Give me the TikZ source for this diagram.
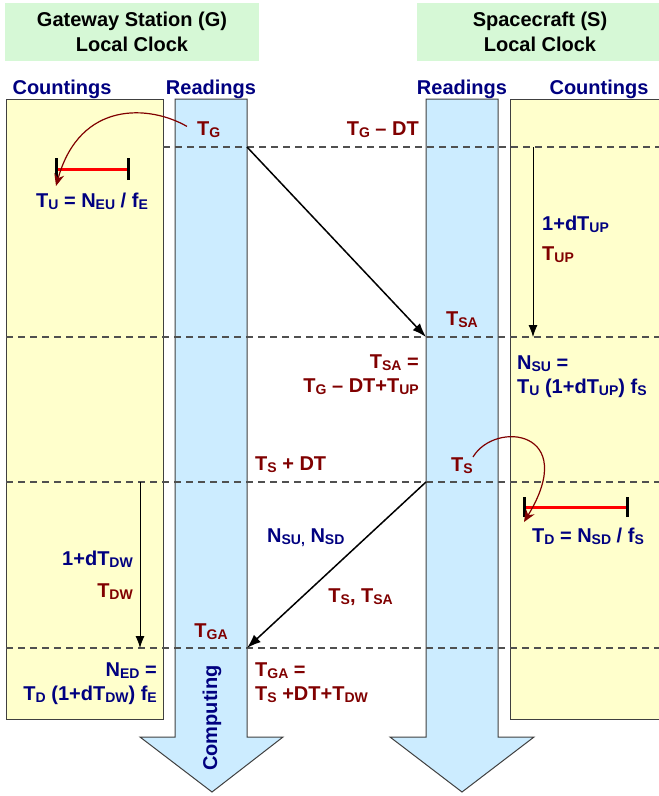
\documentclass[tikz,border=0pt]{standalone}
\usepackage{fontspec}
\setmainfont{Liberation Sans}
\usetikzlibrary{shapes,arrows,arrows.meta,positioning}

\definecolor{navytext}{RGB}{0,0,128}
\definecolor{redtext}{RGB}{128,0,0}
\definecolor{yellowbg}{RGB}{255,255,204}
\definecolor{bluebg}{RGB}{204,236,255}
\definecolor{greenbg}{RGB}{214,248,214}
\definecolor{edgegray}{RGB}{64,64,64}
\definecolor{dashgray}{RGB}{80,80,80}

\newcommand{\sub}[1]{\raisebox{-2.5pt}{\fontsize{14}{14}\selectfont #1}}

\begin{document}
\begin{tikzpicture}[x=1pt, y=-1pt, >=latex']
    \tikzstyle{title}    = [fill=greenbg, align=center, font=\fontsize{20}{25}\selectfont\bfseries, inner sep=0pt]
    \tikzstyle{lbl}      = [inner sep=0pt, font=\fontsize{20}{24}\selectfont\bfseries]
    \tikzstyle{navylbl}  = [lbl, text=navytext]
    \tikzstyle{redlbl}   = [lbl, text=redtext]
    \tikzstyle{countbox} = [draw=edgegray, fill=yellowbg, line width=1pt]
    \tikzstyle{column}   = [draw=edgegray, fill=bluebg, line width=1pt]
    \tikzstyle{timeline} = [draw=dashgray, line width=1.2pt, dash pattern=on 7pt off 5pt]
    \tikzstyle{signal}   = [line width=1.5pt, -{Latex[length=14pt, width=10pt]}]
    \tikzstyle{drift}    = [line width=0.8pt, -{Latex[length=12pt, width=9pt]}]
    \tikzstyle{latch}    = [draw=redtext, line width=1.2pt, -{Stealth[length=12pt, width=10pt]}]
    \tikzstyle{tickmark} = [line width=3pt]
    \tikzstyle{span}     = [draw=red, line width=3pt]

    \useasboundingbox (0,0) rectangle (659,796);

    % Titles
    \node [title, minimum width=254, minimum height=58] (gtitle) at (132,32) {Gateway Station (G)\\Local Clock};
    \node [title, minimum width=246, minimum height=58] (stitle) at (540,32) {Spacecraft (S)\\Local Clock};

    \node [navylbl, anchor=base] (gcount) at (62,94) {Countings};
    \node [navylbl, anchor=base] (gread) at (211,94) {Readings};
    \node [navylbl, anchor=base] (sread) at (462,94) {Readings};
    \node [navylbl, anchor=base] (scount) at (599,94) {Countings};

    % Backgrounds
    \draw [countbox] (6,99) rectangle (163,719);
    \draw [countbox] (510,99) rectangle (670,719);
    \draw [column] (175,99) -- (247,99) -- (247,737) -- (283,737) -- (212,792) -- (140,737) -- (175,737) -- cycle;
    \draw [column] (426,99) -- (498,99) -- (498,737) -- (534,737) -- (462,792) -- (390,737) -- (426,737) -- cycle;

    % Time lines
    \draw [timeline] (163,147) -- (670,147);
    \draw [timeline] (6,337) -- (670,337);
    \draw [timeline] (6,482) -- (670,482);
    \draw [timeline] (6,648) -- (670,648);

    \coordinate (tgsend) at (247,147);
    \coordinate (tsarr) at (426,337);
    \coordinate (tssend) at (426,482);
    \coordinate (tgaarr) at (247,648);
    \coordinate (upstart) at (533,147);
    \coordinate (upend) at (533,337);
    \coordinate (dwstart) at (140,482);
    \coordinate (dwend) at (140,648);

    % Interval bars
    \coordinate (gbarL) at (56,169);
    \coordinate (gbarR) at (128,169);
    \coordinate (sbarL) at (524,507);
    \coordinate (sbarR) at (627,507);
    \draw [span] (gbarL) -- (gbarR);
    \draw [tickmark] ([yshift=-11pt]gbarL) -- ([yshift=11pt]gbarL);
    \draw [tickmark] ([yshift=-11pt]gbarR) -- ([yshift=11pt]gbarR);
    \draw [span] (sbarL) -- (sbarR);
    \draw [tickmark] ([yshift=-10pt]sbarL) -- ([yshift=10pt]sbarL);
    \draw [tickmark] ([yshift=-10pt]sbarR) -- ([yshift=10pt]sbarR);

    % Labels
    \node [redlbl, anchor=base west] (tg) at (197,135) {T\sub{G}};
    \node [redlbl, anchor=base east] (tgdt) at (419,135) {T\sub{G} -- DT};
    \node [navylbl, anchor=base] (tu) at (92,207) {T\sub{U} = N\sub{EU} / f\sub{E}};
    \node [navylbl, anchor=base west] (dtup) at (542,230) {1+dT\sub{UP}};
    \node [redlbl, anchor=base west] (tup) at (542,260) {T\sub{UP}};
    \node [redlbl, anchor=base] (tsa) at (462,325) {T\sub{SA}};
    \node [redlbl, anchor=base east, align=right] (tsaeq) at (419,392) {T\sub{SA} =\\T\sub{G} -- DT+T\sub{UP}};
    \node [navylbl, anchor=base west, align=left] (nsu) at (517,393) {N\sub{SU} =\\T\sub{U} (1+dT\sub{UP}) f\sub{S}};
    \node [redlbl, anchor=base west] (tsdt) at (255,470) {T\sub{S} + DT};
    \node [redlbl, anchor=base] (ts) at (462,471) {T\sub{S}};
    \node [navylbl, anchor=base] (td) at (588,542) {T\sub{D} = N\sub{SD} / f\sub{S}};
    \node [navylbl, anchor=base west] (nsusd) at (267,542) {N\sub{SU,} N\sub{SD}};
    \node [navylbl, anchor=base east] (dtdw) at (133,565) {1+dT\sub{DW}};
    \node [redlbl, anchor=base east] (tdw) at (133,597) {T\sub{DW}};
    \node [redlbl, anchor=base east] (tstsa) at (393,602) {T\sub{S}, T\sub{SA}};
    \node [redlbl, anchor=base] (tga) at (211,637) {T\sub{GA}};
    \node [navylbl, anchor=base east, align=right] (ned) at (157,700) {N\sub{ED} =\\T\sub{D} (1+dT\sub{DW}) f\sub{E}};
    \node [redlbl, anchor=base west, align=left] (tgaeq) at (255,700) {T\sub{GA} =\\T\sub{S} +DT+T\sub{DW}};
    \node [navylbl, rotate=90] (computing) at (212,718) {Computing};

    % Signals
    \draw [signal] (tgsend) -- (tsarr);
    \draw [signal] (tssend) -- (tgaarr);
    \draw [drift] (upstart) -- (upend);
    \draw [drift] (dwstart) -- (dwend);

    \draw [latch] ([shift={(-10pt,3pt)}]tg.west) .. controls (150,105) and (80,100) .. ([yshift=-17pt]gbarL);
    \draw [latch] (ts.north east) .. controls (495,420) and (580,430) .. ([yshift=-15pt]sbarL);

\end{tikzpicture}
\end{document}
